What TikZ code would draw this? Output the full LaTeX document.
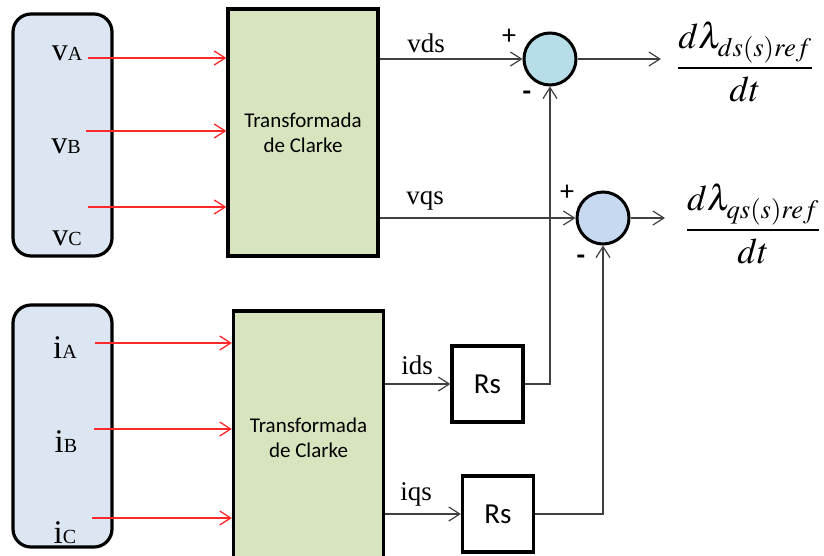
\documentclass[tikz,border=0pt]{standalone}
\usepackage{amsmath}
\usepackage{mathptmx}
\usepackage[no-math]{fontspec}
\setmainfont{Liberation Serif}
\setsansfont{Carlito}
\usetikzlibrary{arrows.meta,positioning,calc}
\definecolor{inputblue}{RGB}{220,230,242}
\definecolor{clarkegreen}{RGB}{215,228,189}
\definecolor{sumcyan}{RGB}{183,222,232}
\definecolor{sumblue}{RGB}{198,217,241}
\definecolor{wire}{RGB}{64,64,64}
\definecolor{sigred}{RGB}{255,40,40}

\begin{document}
\begin{tikzpicture}[x=1pt,y=-1pt,
  inbox/.style={draw, line width=3.2pt, rounded corners=18pt, fill=inputblue, minimum width=99pt, minimum height=242pt},
  clarke/.style={draw, line width=3.2pt, fill=clarkegreen, font=\sffamily\fontsize{21}{25}\selectfont, align=center, minimum width=150pt},
  sumnode/.style={draw, circle, line width=3pt, minimum size=52pt, inner sep=0pt},
  gain/.style={draw, line width=3.2pt, minimum width=71pt, minimum height=76pt, font=\sffamily\fontsize{29}{29}\selectfont},
  redarr/.style={-{Straight Barb[length=11pt,width=14pt]}, draw=sigred, line width=1.3pt},
  arr/.style={-{Straight Barb[length=11pt,width=14pt]}, draw=wire, line width=1.2pt},
  sig/.style={font=\fontsize{27}{27}\selectfont, anchor=base, inner sep=0pt},
  sign/.style={font=\sffamily\fontsize{28}{28}\selectfont},
  frac/.style={font=\fontsize{36}{40}\selectfont},
]
\useasboundingbox (0,0) rectangle (824,555);
\clip (0,0) rectangle (824,555);

% input blocks
\node[inbox] (VIN) at (62.5,135) {};
\node[inbox] (IIN) at (62.5,426) {};
\node[sig] (vA) at (67,60) {{\fontsize{32}{32}\selectfont v}{\fontsize{20}{20}\selectfont A}};
\node[sig] (vB) at (66,153) {{\fontsize{32}{32}\selectfont v}{\fontsize{20}{20}\selectfont B}};
\node[sig] (vC) at (67,245) {{\fontsize{32}{32}\selectfont v}{\fontsize{20}{20}\selectfont C}};
\node[sig] (iA) at (65,358) {{\fontsize{33}{33}\selectfont i}{\fontsize{20}{20}\selectfont A}};
\node[sig] (iB) at (66,452) {{\fontsize{33}{33}\selectfont i}{\fontsize{20}{20}\selectfont B}};
\node[sig] (iC) at (65,543) {{\fontsize{33}{33}\selectfont i}{\fontsize{20}{20}\selectfont C}};

% Clarke blocks
\node[clarke, minimum height=247pt] (C1) at (303,132.5) {Transformada\\de Clarke};
\node[clarke, minimum height=254pt] (C2) at (308.5,438) {Transformada\\de Clarke};

\coordinate (pA) at (88,58);
\coordinate (pB) at (86,131);
\coordinate (pC) at (88,207);
\coordinate (qA) at (95,343);
\coordinate (qB) at (94,429);
\coordinate (qC) at (92,518);
\draw[redarr] (pA) -- (pA -| C1.west);
\draw[redarr] (pB) -- (pB -| C1.west);
\draw[redarr] (pC) -- (pC -| C1.west);
\draw[redarr] (qA) -- (qA -| C2.west);
\draw[redarr] (qB) -- (qB -| C2.west);
\draw[redarr] (qC) -- (qC -| C2.west);

% summing junctions
\node[sumnode, fill=sumcyan] (S1) at (550,59) {};
\node[sumnode, fill=sumblue] (S2) at (603,218) {};
\node[sign] (p1) at (509,37) {+};
\node[sign, font=\sffamily\bfseries\fontsize{28}{28}\selectfont] (m1) at (527,96) {-};
\node[sign] (p2) at (567,193) {+};
\node[sign, font=\sffamily\bfseries\fontsize{28}{28}\selectfont] (m2) at (581,260) {-};

\draw[arr] (C1.east |- S1) -- (S1.west);
\draw[arr] (C1.east |- S2) -- (S2.west);
\node[sig] (vds) at (426,52) {vds};
\node[sig] (vqs) at (425,204) {vqs};

\coordinate (d1) at (661,59);
\coordinate (d2) at (665,218);
\draw[arr] (S1.east) -- (d1);
\draw[arr] (S2.east) -- (d2);
\node[frac] (f1) at (745,62) {$\displaystyle\frac{d\lambda_{ds(s)ref}}{dt}$};
\node[frac] (f2) at (753,224) {$\displaystyle\frac{d\lambda_{qs(s)ref}}{dt}$};

% stator resistance feedback
\node[gain] (R1) at (487.5,384) {Rs};
\node[gain] (R2) at (498,514) {Rs};
\draw[arr] (C2.east |- R1) -- (R1.west);
\draw[arr] (C2.east |- R2) -- (R2.west);
\node[sig] (ids) at (417,374) {ids};
\node[sig] (iqs) at (416,500) {iqs};
\draw[arr] (R1.east) -| (S1.south);
\draw[arr] (R2.east) -| (S2.south);
\end{tikzpicture}
\end{document}
